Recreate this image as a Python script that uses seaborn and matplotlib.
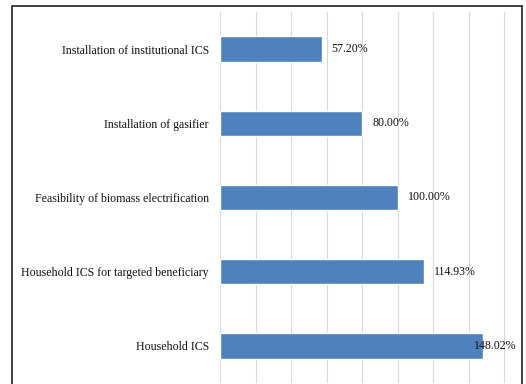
import pandas as pd
import matplotlib
matplotlib.use("Agg")
import matplotlib.pyplot as plt
import matplotlib.patches as patches
import seaborn as sns

categorias = ['Installation of institutional ICS', 'Installation of gasifier',
              'Feasibility of biomass electrification',
              'Household ICS for targeted beneficiary', 'Household ICS']
valores = [57.20, 80.00, 100.00, 114.93, 148.02]
rotulos = ['57.20%', '80.00%', '100.00%', '114.93%', '148.02%']

df = pd.DataFrame({'Atividade': categorias, 'Progresso': valores})

sns.set_style("white")
plt.rcParams['font.family'] = ['Liberation Serif', 'DejaVu Serif']

fig = plt.figure(figsize=(5.26, 3.84), dpi=100)
ax = fig.add_axes([220 / 526, 1 / 384, (506 - 220) / 526, (372 - 1) / 384])

sns.barplot(data=df, x='Progresso', y='Atividade', color='#4F81BD',
            saturation=1, width=0.34, ax=ax, zorder=3)

ax.set_xlim(0, 161)
ax.set_xticks(range(0, 161, 20))
ax.set_xticklabels([])
ax.tick_params(axis='x', length=0)
ax.tick_params(axis='y', length=0, labelsize=8.6, pad=8, labelcolor='#111111')
ax.grid(axis='x', color='#d9d9d9', linewidth=0.8, zorder=0)
ax.set_xlabel('')
ax.set_ylabel('')
for s in ax.spines.values():
    s.set_visible(False)

for i, (v, r) in enumerate(zip(valores, rotulos)):
    dx = -9 if v > 140 else 10
    ax.annotate(r, (v, i), xytext=(dx, 0), textcoords='offset pixels',
                va='center', ha='left', fontsize=8.6, color='#111111')

# borda externa
borda = patches.Rectangle((12 / 526, -0.05), (522 - 12) / 526, 1.05 - 6 / 384,
                          transform=fig.transFigure, fill=False,
                          edgecolor='#333333', linewidth=1.3, clip_on=False)
fig.patches.append(borda)

plt.savefig("out.png", dpi=100)
